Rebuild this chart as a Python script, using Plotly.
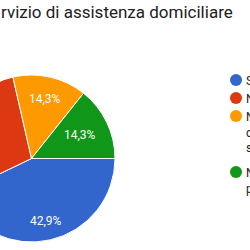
import math
import plotly.graph_objects as go

categories = ["Sì", "No", "Non lo<br>conosco<br>sufficientemente", "No, ma<br>potrebbe servirmi"]
values = [3, 2, 1, 1]
colors = ["#3366CC", "#DC3912", "#FF9900", "#109618"]
title_text = "rvizio di assistenza domiciliare"

# layout constants (pixels in the visible 250x250 window)
L, R = 120, 100
W, H = L + 250 + R, 250
CX, CY, RAD = 31.5, 158.5, 83.5
label_radius = [0.77, 0.72, 0.73, 0.65]

def px(x):
    return (x + L) / W

def py(y):
    return 1 - y / H

fig = go.Figure()
fig.add_trace(go.Pie(
    labels=categories, values=values, sort=False, direction="clockwise",
    rotation=90, marker=dict(colors=colors, line=dict(color="white", width=1)),
    textinfo="none", showlegend=False, hoverinfo="skip",
    domain=dict(x=[px(CX - RAD), px(CX + RAD)], y=[py(CY + RAD), py(CY - RAD)]),
))

annotations, shapes = [], []
total = sum(values)
cum = 0
for v, fr in zip(values, label_radius):
    mid = (cum + v / 2) / total * 2 * math.pi
    cum += v
    lx = CX + fr * RAD * math.cos(mid)
    ly = CY + fr * RAD * math.sin(mid)
    pct = f"{v / total * 100:.1f}".replace(".", ",") + "%"
    annotations.append(dict(text=pct, xref="paper", yref="paper", x=px(lx), y=py(ly),
                            xanchor="center", yanchor="middle", showarrow=False,
                            font=dict(family="Roboto", size=12, color="white")))

legend_y = [80, 98, 116, 172]
r = 6
for lab, col, yc in zip(categories, colors, legend_y):
    shapes.append(dict(type="circle", xref="paper", yref="paper",
                       x0=px(236 - r), x1=px(236 + r), y0=py(yc + r), y1=py(yc - r),
                       fillcolor=col, line=dict(width=0)))
    annotations.append(dict(text=lab, xref="paper", yref="paper", x=px(244), y=py(yc - 8),
                            xanchor="left", yanchor="top", align="left", showarrow=False,
                            font=dict(family="Roboto", size=12, color="#222222")))

annotations.append(dict(text=title_text, xref="paper", yref="paper", x=px(-1), y=py(12),
                        xanchor="left", yanchor="middle", showarrow=False,
                        font=dict(family="Roboto", size=17, color="#212121")))

fig.update_layout(
    width=W, height=H, margin=dict(l=0, r=0, t=0, b=0, pad=0),
    paper_bgcolor="white", plot_bgcolor="white",
    shapes=shapes, annotations=annotations,
)

post = ("var d=document.getElementById('{plot_id}');d.style.marginLeft='-%dpx';"
        "document.body.style.margin='0';document.body.style.overflow='hidden';"
        "document.documentElement.style.overflow='hidden';") % L
fig.write_html("out.html", post_script=post, config={"displayModeBar": False})
